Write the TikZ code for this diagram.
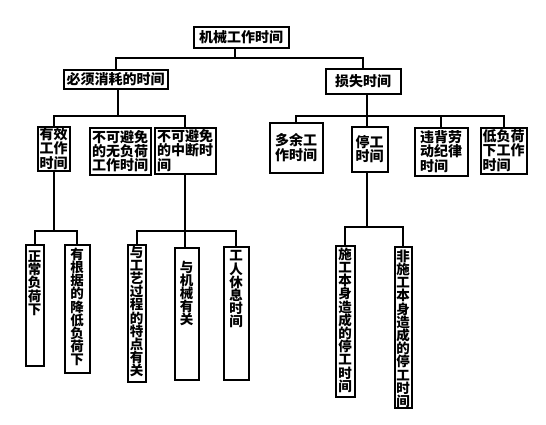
\documentclass[tikz,border=0pt]{standalone}
\usepackage{fontspec}
\setmainfont{Noto Sans CJK SC}
\usetikzlibrary{positioning}

\begin{document}
\begin{tikzpicture}[x=1pt, y=-1pt]
        \tikzstyle{box} = [rectangle, draw, line width=2pt, inner sep=1pt, align=left, font=\fontsize{14}{12.8}\selectfont\bfseries]
        \tikzstyle{vbox} = [rectangle, draw, line width=2pt, inner sep=0pt]
        \tikzstyle{vtext} = [inner sep=0pt, align=center, font=\fontsize{13.5}{13.2}\selectfont\bfseries]
        \tikzstyle{link} = [line width=2pt]

        \useasboundingbox (0,0) rectangle (546,424);

        % Nodes
        \node (top) [box, minimum width=95, minimum height=21] at (241,37) {机械工作时间};
        \node (bixu) [box, minimum width=104, minimum height=19] at (115.5,79) {必须消耗的时间};
        \node (sunshi) [box, minimum width=75, minimum height=25] at (363,81) {损失时间};

        \node (youxiao) [box, minimum width=32, minimum height=44] at (53.5,148.5) {有效\\工作\\时间};
        \node (wufuhe) [box, minimum width=61, minimum height=47] at (120,151) {不可避免\\的无负荷\\工作时间};
        \node (zhongduan) [box, minimum width=61, minimum height=46] at (185,150.5) {不可避免\\的中断时\\间};
        \node (duoyu) [box, minimum width=53, minimum height=50] at (296,147.5) {多余工\\作时间};
        \node (tinggong) [box, minimum width=36, minimum height=45] at (369.5,149) {停工\\时间};
        \node (weibei) [box, minimum width=53, minimum height=48] at (441,151.5) {违背劳\\动纪律\\时间};
        \node (difuhe) [box, minimum width=46, minimum height=46] at (503.5,150.5) {低负荷\\下工作\\时间};

        \node (zhengchang) [vbox, minimum width=18, minimum height=121] at (34.5,305) {};
        \node (jiangdi) [vbox, minimum width=25, minimum height=128] at (77,308.5) {};
        \node (gongyi) [vbox, minimum width=18, minimum height=137] at (136.5,313) {};
        \node (jixie) [vbox, minimum width=24, minimum height=132] at (186.5,313.5) {};
        \node (xiuxi) [vbox, minimum width=25, minimum height=133] at (236,313) {};
        \node (shigong) [vbox, minimum width=19, minimum height=151] at (345,321) {};
        \node (feishigong) [vbox, minimum width=17, minimum height=161] at (403,327) {};

        % Vertical labels
        \node [vtext, below=7pt of zhengchang.north] {正\\常\\负\\荷\\下};
        \node [vtext, below=4pt of jiangdi.north] {有\\根\\据\\的\\降\\低\\负\\荷\\下};
        \node [vtext, below=2pt of gongyi.north] {与\\工\\艺\\过\\程\\的\\特\\点\\有\\关};
        \node [vtext, below=14pt of jixie.north] {与\\机\\械\\有\\关};
        \node [vtext, below=5pt of xiuxi.north] {工\\人\\休\\息\\时\\间};
        \node [vtext, below=3pt of shigong.north] {施\\工\\本\\身\\造\\成\\的\\停\\工\\时\\间};
        \node [vtext, below=4pt of feishigong.north] {非\\施\\工\\本\\身\\造\\成\\的\\停\\工\\时\\间};

        % Buses
        \coordinate (bus1) at (235,58);
        \coordinate (bus2) at (118,116);
        \coordinate (bus3) at (367,116);
        \coordinate (bus4) at (53.5,231);
        \coordinate (bus5) at (185,231);
        \coordinate (bus6) at (367,227);

        % Lines
        \draw [link] (top.south -| bus1) -- (bus1);
        \draw [link] (bixu.north) |- (bus1) -| (sunshi.north);

        \draw [link] (bixu.south -| bus2) -- (bus2);
        \draw [link] (youxiao.north) |- (bus2) -| (zhongduan.north);

        \draw [link] (sunshi.south -| bus3) -- (bus3 |- tinggong.north);
        \draw [link] (duoyu.north) |- (bus3) -| (difuhe.north);
        \draw [link] (weibei.north) -- (weibei.north |- bus3);

        \draw [link] (youxiao.south) -- (bus4);
        \draw [link] (zhengchang.north) |- (bus4) -| (jiangdi.north);

        \draw [link] (zhongduan.south) -- (zhongduan.south |- jixie.north);
        \draw [link] (gongyi.north) |- (bus5) -| (xiuxi.north);

        \draw [link] (tinggong.south -| bus6) -- (bus6);
        \draw [link] (shigong.north) |- (bus6) -| (feishigong.north);
    \end{tikzpicture}
\end{document}
